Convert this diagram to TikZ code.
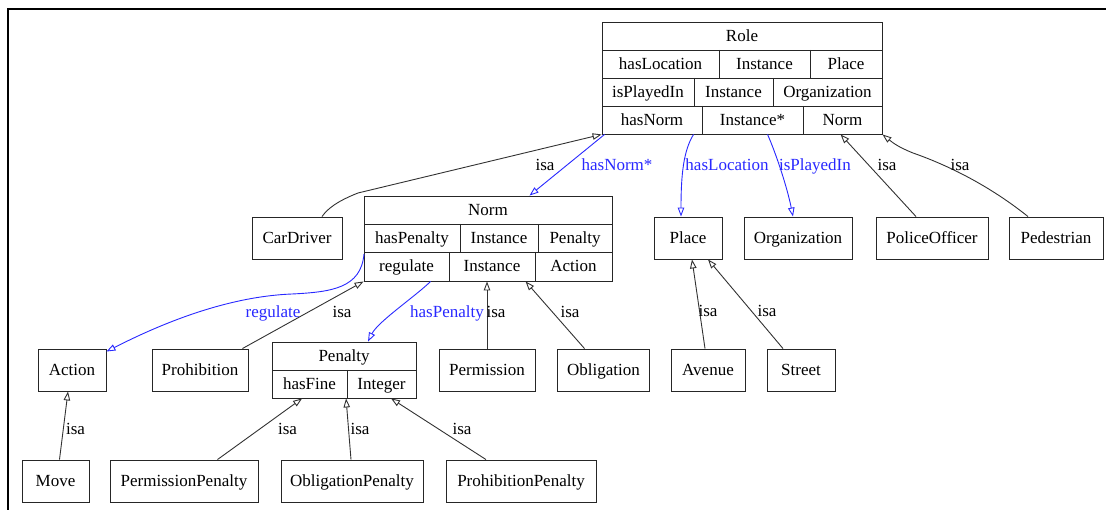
\documentclass[tikz,border=0pt]{standalone}
\usepackage{fontspec}
\setmainfont{Liberation Serif}
\usetikzlibrary{arrows.meta,calc}
\definecolor{edgeblue}{RGB}{40,40,255}
\definecolor{edgegray}{RGB}{50,50,50}
\newcommand\dfont{\fontsize{17}{20}\selectfont}
\begin{document}
\begin{tikzpicture}[x=1pt,y=-1pt,
  every node/.style={font=\dfont, inner sep=0pt, text height=13pt, text depth=2pt},
  box/.style={draw=black!85, line width=0.9pt, minimum height=42pt},
  tbl/.style={draw=black!85, line width=0.9pt},
  cellline/.style={draw=black!85, line width=0.9pt},
  isa/.style={draw=edgegray, line width=0.9pt, -{Triangle[open,length=9pt,width=6.5pt]}},
  rel/.style={draw=edgeblue, line width=0.9pt, -{Triangle[open,length=9pt,width=6.5pt]}},
  isalbl/.style={text=black},
  rellbl/.style={text=edgeblue}]
\useasboundingbox (0,0) rectangle (1106,510);
\draw[line width=1.2pt] (8,510) -- (8,9) -- (1106,9);

% ---- Role table ----
\node[tbl, minimum width=280pt, minimum height=112pt] (role) at (742,78) {};
\draw[cellline] (602,50) -- (882,50) (602,78) -- (882,78) (602,106) -- (882,106);
\draw[cellline] (719,50) -- (719,78) (810,50) -- (810,78);
\draw[cellline] (694,78) -- (694,106) (773,78) -- (773,106);
\draw[cellline] (702,106) -- (702,134) (803,106) -- (803,134);
\node (roleT) at (742,36) {Role};
\node (roleA1) at (660.5,64) {hasLocation};
\node (roleA2) at (764.5,64) {Instance};
\node (roleA3) at (846,64) {Place};
\node (roleB1) at (648,92) {isPlayedIn};
\node (roleB2) at (733.5,92) {Instance};
\node (roleB3) at (827.5,92) {Organization};
\node (roleC1) at (652,120) {hasNorm};
\node (roleC2) at (752.5,120) {Instance*};
\node (roleC3) at (842.5,120) {Norm};

% ---- Norm table ----
\node[tbl, minimum width=248pt, minimum height=85pt] (norm) at (488,238.5) {};
\draw[cellline] (364,224) -- (612,224) (364,252) -- (612,252);
\draw[cellline] (460,224) -- (460,252) (538,224) -- (538,252);
\draw[cellline] (449,252) -- (449,281) (535,252) -- (535,281);
\node (normT) at (488,210) {Norm};
\node (normA1) at (412,238) {hasPenalty};
\node (normA2) at (499,238) {Instance};
\node (normA3) at (575,238) {Penalty};
\node (normB1) at (406.5,266.5) {regulate};
\node (normB2) at (492,266.5) {Instance};
\node (normB3) at (573.5,266.5) {Action};

% ---- Penalty table ----
\node[tbl, minimum width=144pt, minimum height=56pt] (penalty) at (344,370) {};
\draw[cellline] (272,370) -- (416,370) (347,370) -- (347,398);
\node (penT) at (344,356) {Penalty};
\node (penA1) at (309.5,384) {hasFine};
\node (penA2) at (381.5,384) {Integer};

% ---- simple boxes ----
\node[box, minimum width=90pt] (cardriver) at (297,238) {CarDriver};
\node[box, minimum width=68pt] (place) at (688,238) {Place};
\node[box, minimum width=108pt] (organization) at (798,238) {Organization};
\node[box, minimum width=112pt] (police) at (932,238) {PoliceOfficer};
\node[box, minimum width=94pt] (pedestrian) at (1056,238) {Pedestrian};
\node[box, minimum width=68pt] (action) at (72,370) {Action};
\node[box, minimum width=96pt] (prohibition) at (200,370) {Prohibition};
\node[box, minimum width=96pt] (permission) at (487,370) {Permission};
\node[box, minimum width=92pt] (obligation) at (603.5,370) {Obligation};
\node[box, minimum width=74pt] (avenue) at (708,370) {Avenue};
\node[box, minimum width=68pt] (street) at (801,370) {Street};
\node[box, minimum width=67pt] (move) at (55.5,481) {Move};
\node[box, minimum width=148pt] (permpen) at (184,481) {PermissionPenalty};
\node[box, minimum width=142pt] (oblpen) at (352,481) {ObligationPenalty};
\node[box, minimum width=150pt] (prohpen) at (521,481) {ProhibitionPenalty};

% ---- edges ----
\draw[isa] ($(cardriver.north)+(25,0)$) .. controls +(8,-12) and +(-10,4) .. (358,193) -- (role.south west);
\node[isalbl] (l1) at (545,165) {isa};

\draw[rel] ($(role.south west)+(3,0)$) -- ($(norm.north west)+(166,0)$);
\node[rellbl] (l2) at (617,165) {hasNorm*};

\draw[rel] ($(role.south west)+(92,0)$) .. controls +(-10,16) and +(0,-42) .. ($(place.north)+(-7,0)$);
\node[rellbl] (l3) at (727,165) {hasLocation};

\draw[rel] ($(role.south west)+(166,0)$) .. controls +(8,18) and +(-6,-30) .. ($(organization.north)+(-5,0)$);
\node[rellbl] (l4) at (815,165) {isPlayedIn};

\draw[isa] ($(police.north)+(-16,0)$) -- ($(role.south west)+(239,0)$);
\node[isalbl] (l5) at (887,165) {isa};

\draw[isa] ($(pedestrian.north)+(-28,0)$) .. controls +(-35,-28) and +(40,14) .. (913,153) .. controls +(-15,-6) and +(10,8) .. (role.south east);
\node[isalbl] (l6) at (960,165) {isa};

\draw[isa] ($(avenue.north)+(-3,0)$) -- ($(place.south)+(4,0)$);
\node[isalbl] (l7) at (708,311) {isa};

\draw[isa] ($(street.north)+(-18,0)$) -- ($(place.south)+(20,0)$);
\node[isalbl] (l8) at (767,311) {isa};

\draw[rel] (364,254) .. controls (361,288) and (332,292) .. (292,294) .. controls (240,296) and (180,314) .. ($(action.north east)+(0,3)$);
\node[rellbl] (l9) at (273,312) {regulate};

\draw[isa] ($(prohibition.north east)+(-6,0)$) -- (norm.south west);
\node[isalbl] (l10) at (342,312) {isa};

\draw[rel] ($(norm.south west)+(67,0)$) .. controls +(-14,14) and +(10,-20) .. ($(penalty.north)+(24,0)$);
\node[rellbl] (l11) at (447,312) {hasPenalty};

\draw[isa] (permission.north) -- (permission.north |- norm.south);
\node[isalbl] (l12) at (496,312) {isa};

\draw[isa] ($(obligation.north)+(-19,0)$) -- ($(norm.south west)+(162,0)$);
\node[isalbl] (l13) at (570,312) {isa};

\draw[isa] ($(move.north)+(4,0)$) -- ($(action.south)+(-4,0)$);
\node[isalbl] (l14) at (75.5,429) {isa};

\draw[isa] ($(permpen.north)+(33.5,0)$) -- ($(penalty.south west)+(30.5,0)$);
\node[isalbl] (l15) at (287.5,429) {isa};

\draw[isa] ($(oblpen.north)+(-1,0)$) -- ($(penalty.south west)+(74.5,0)$);
\node[isalbl] (l16) at (360,429) {isa};

\draw[isa] ($(prohpen.north)+(-35,0)$) -- ($(penalty.south west)+(119.5,0)$);
\node[isalbl] (l17) at (462,429) {isa};
\end{tikzpicture}
\end{document}
